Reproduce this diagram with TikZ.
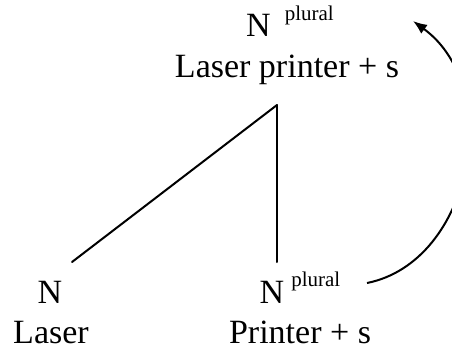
\documentclass[tikz,border=0pt]{standalone}
\usepackage{fontspec}
\setmainfont{Liberation Serif}
\usetikzlibrary{arrows.meta}
\begin{document}
\begin{tikzpicture}[x=1pt,y=-1pt,
  word/.style={inner sep=0pt,anchor=base,font=\fontsize{34}{40}\selectfont},
  link/.style={line width=2pt,line cap=round},
  movearrow/.style={line width=2pt,-{Latex[length=14pt,width=11pt,fill=black]}}
]
\useasboundingbox (0,0) rectangle (452,354);
\fill[white] (0,0) rectangle (452,354);
% top
\node[word] (topcat) at (290,36) {N\hspace{14pt}\raisebox{16pt}{\fontsize{21}{24}\selectfont plural}};
\node[word] (topword) at (287,77) {Laser printer + s};
% bottom left
\node[word] (laserN) at (50,303) {N};
\node[word] (laserW) at (51,343) {Laser};
% bottom right
\node[word] (printN) at (300,303) {N\hspace{7pt}\raisebox{17pt}{\fontsize{21}{24}\selectfont plural}};
\node[word] (printW) at (300,343) {Printer + s};
% branches
\coordinate (apex) at (277,105);
\coordinate (leftend) at (72,262);
\coordinate (rightend) at (277,262);
\draw[link] (apex) -- (leftend);
\draw[link] (apex) -- (rightend);
% movement arrow
\coordinate (arrstart) at (367,283);
\coordinate (arrend) at (413,21);
\begin{scope}
\clip (0,0) rectangle (452,354);
\draw[movearrow] (arrstart) .. controls (472,262) and (505,88) .. (arrend);
\end{scope}
\end{tikzpicture}
\end{document}
